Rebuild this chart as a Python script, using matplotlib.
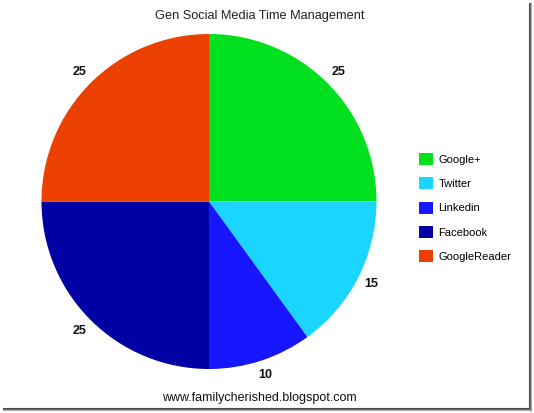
import matplotlib
matplotlib.use("Agg")
import matplotlib.pyplot as plt
from matplotlib.lines import Line2D

plt.rcParams['font.family'] = ['Liberation Sans', 'DejaVu Sans']

categories = ['Google+', 'Twitter', 'Linkedin', 'Facebook', 'GoogleReader']
values = [25, 15, 10, 25, 25]
colors = ['#00E01E', '#1AD6FF', '#1616FF', '#0000A5', '#EB4000']
title = 'Gen Social Media Time Management'
footer = 'www.familycherished.blogspot.com'

W, H = 534, 413
fig = plt.figure(figsize=(W / 100, H / 100), dpi=100)
fig.patch.set_facecolor('white')

cx, cy, r = 209, 201.5, 167.5
ax = fig.add_axes([(cx - r) / W, (H - cy - r) / H, 2 * r / W, 2 * r / H])
total = sum(values)
wedges, texts, autotexts = ax.pie(
    values, colors=colors, startangle=90, counterclock=False, radius=1,
    autopct=lambda p: f'{p * total / 100:.0f}', pctdistance=1.09,
    wedgeprops=dict(linewidth=0),
    textprops=dict(fontsize=9, fontweight='bold', color='#111111'))
ax.set_xlim(-1, 1)
ax.set_ylim(-1, 1)
ax.set_aspect('auto')
ax.axis('off')

fig.text(260 / W, 1 - 16.5 / H, title, ha='center', va='center', fontsize=9.2, color='#222222')
fig.text(259 / W, 1 - 398.5 / H, footer, ha='center', va='center', fontsize=9, color='#111111')

fig.legend(wedges, categories, loc='upper left', bbox_to_anchor=(419 / W, 1 - 153 / H),
           frameon=False, fontsize=8, handlelength=1.3, handleheight=1.3,
           handletextpad=0.45, labelspacing=1.1, borderpad=0, borderaxespad=0)

# screenshot frame shadow
for off, col in [(0, '#4a4a4a'), (1, '#6a6a6a'), (2, '#aaaaaa')]:
    fig.add_artist(Line2D([(529 + off) / W, (529 + off) / W], [1 - 3 / H, 1 - (409 + off) / H],
                          transform=fig.transFigure, color=col, linewidth=0.8))
    fig.add_artist(Line2D([3 / W, (529 + off) / W], [1 - (408 + off) / H, 1 - (408 + off) / H],
                          transform=fig.transFigure, color=col, linewidth=0.8))

fig.savefig('out.png', dpi=100, facecolor='white')
